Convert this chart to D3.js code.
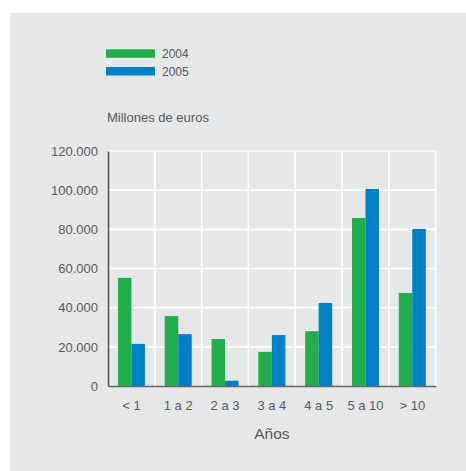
<!DOCTYPE html>
<html><head><meta charset="utf-8">
<script src="https://cdn.jsdelivr.net/npm/d3@7"></script>
<style>body{margin:0;background:#fff}svg{display:block}</style>
</head><body>
<script>
const categories = ["< 1","1 a 2","2 a 3","3 a 4","4 a 5","5 a 10","> 10"];
const series = ["2004","2005"];
const values2004 = [55200, 35700, 24000, 17400, 28000, 85800, 47500];
const values2005 = [21500, 26500, 2700, 26000, 42400, 100600, 80200];
const yTicks = [0, 20000, 40000, 60000, 80000, 100000, 120000];
const colors = ["#23ae4c", "#0081c5"];

(function(){
const W = 466, H = 471;
const svg = d3.select("body").append("svg").attr("width", W).attr("height", H);
svg.append("rect").attr("x", 10).attr("y", 13).attr("width", 456).attr("height", 458).attr("fill", "#e6e7e8");

const pL = 108, pR = 435.7, pT = 151, pB = 386;
const x = d3.scaleBand().domain(categories).range([pL, pR]).paddingInner(0).paddingOuter(0);
const y = d3.scaleLinear().domain([0, 120000]).range([pB, pT]);
const inner = d3.scaleBand().domain(series).range([0, 27]);
const fmt = v => d3.format(",")(v).replace(/,/g, ".");
const font = "Liberation Sans, Arial, sans-serif";
const tc = "#58595b";

// gridlines
const g = svg.append("g");
g.selectAll(".hg").data(yTicks.filter(t => t > 0)).join("line")
  .attr("x1", pL).attr("x2", pR).attr("y1", d => y(d)).attr("y2", d => y(d))
  .attr("stroke", "#fff").attr("stroke-width", 1.6);
g.selectAll(".vg").data(categories.slice(1).map(c => x(c)).concat([pR])).join("line")
  .attr("x1", d => d).attr("x2", d => d).attr("y1", pT).attr("y2", pB)
  .attr("stroke", "#fff").attr("stroke-width", 1.6);

// bars
const data = categories.map((c, i) => ({c, vals: [values2004[i], values2005[i]]}));
const off = (x.bandwidth() - 27) / 2;
svg.append("g").selectAll("g").data(data).join("g")
  .attr("transform", d => `translate(${x(d.c) + off},0)`)
  .selectAll("rect").data(d => d.vals.map((v, j) => ({s: series[j], v, j}))).join("rect")
  .attr("x", d => inner(d.s)).attr("width", inner.bandwidth())
  .attr("y", d => y(d.v)).attr("height", d => pB - y(d.v))
  .attr("fill", d => colors[d.j]);

// axes
const yAxis = svg.append("g").attr("transform", `translate(${pL},0)`)
  .call(d3.axisLeft(y).tickValues(yTicks).tickFormat(fmt).tickSize(0).tickPadding(10));
yAxis.select(".domain").attr("stroke", "#555").attr("stroke-width", 1.6);
yAxis.selectAll("text").attr("fill", tc).style("font-family", font).style("font-size", "13px");

const xAxis = svg.append("g").attr("transform", `translate(0,${pB})`)
  .call(d3.axisBottom(x).tickSize(0).tickPadding(15));
xAxis.select(".domain").attr("stroke", "#666").attr("stroke-width", 1.6);
xAxis.selectAll("text").attr("fill", tc).style("font-family", font).style("font-size", "13px");

svg.append("text").attr("x", (pL + pR) / 2).attr("y", 439).attr("text-anchor", "middle")
  .attr("fill", tc).style("font-family", font).style("font-size", "15.5px").text("Años");

svg.append("text").attr("x", 107).attr("y", 122).attr("fill", tc)
  .style("font-family", font).style("font-size", "13px").text("Millones de euros");

// legend
const lg = svg.append("g").selectAll("g").data(series).join("g")
  .attr("transform", (d, i) => `translate(106,${49.3 + i * 17.7})`);
lg.append("rect").attr("width", 49).attr("height", 8.5).attr("fill", (d, i) => colors[i]);
lg.append("text").attr("x", 56).attr("y", 8.5).attr("fill", tc)
  .style("font-family", font).style("font-size", "12px").text(d => d);
})();
</script>
</body></html>
